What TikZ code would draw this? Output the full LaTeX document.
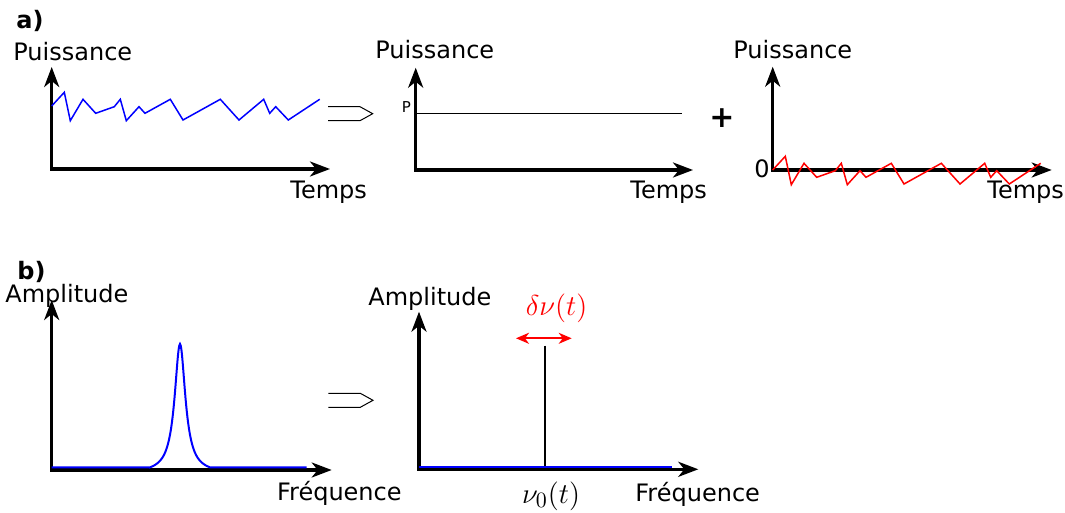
\documentclass[tikz,border=0pt]{standalone}
\usepackage{fontspec}
\setmainfont{DejaVu Sans}
\usetikzlibrary{arrows.meta}
\definecolor{bruitbleu}{RGB}{0,0,255}
\definecolor{bruitrouge}{RGB}{255,0,0}
\def\bruit{(51.7,106) -- (64.3,92.3) -- (70.3,120.7) -- (83,99.3) -- (95.7,113.3) -- (114.3,106.7) -- (120.3,99.3) -- (126.3,120.7) -- (139,106.7) -- (145,113.3) -- (170.3,99.3) -- (183,120) -- (220.3,99.3) -- (239,120) -- (263.7,99.3) -- (269.7,113.3) -- (275.7,106.7) -- (288.3,120) -- (319.7,99.3)}
\newcommand\implique[1]{\draw[fleche] (#1) ++(0,-7) -- ++(32,0) -- ++(12.7,7) -- ++(-12.7,7) -- ++(-32,0);}

\begin{document}
\begin{tikzpicture}[x=0.5pt, y=-0.5pt,
        axe/.style={line width=1.6pt, line join=miter, >={Stealth[length=10pt, width=7.5pt, inset=3pt]}, <->},
        etiq/.style={inner sep=0pt, anchor=base west, font=\fontsize{12}{14}\selectfont},
        bruitline/.style={line width=0.75pt, line join=miter},
        spectre/.style={line width=1pt, bruitbleu},
        fleche/.style={line width=0.5pt, line join=miter},
        ecart/.style={line width=1pt, bruitrouge, >={Stealth[length=6.5pt, width=5.5pt, inset=2pt]}, <->}
    ]
        \useasboundingbox (0,0) rectangle (1065,513);
        \foreach \n/\x/\y/\t/\r in {a1/51.7/169/67/330, a2/415.7/170/67.7/693, a3/772.7/170/66.7/1051.7,
                                    b1/51.7/470/300/331.7, b2/419/469.3/311.7/698.3} {
            \coordinate (\n-y) at (\x,\t);
            \coordinate (\n-x) at (\r,\y);
            \draw[axe] (\n-y) |- (\n-x);
        }
        \draw[bruitline, bruitbleu] \bruit;
        \draw[bruitline, bruitrouge, shift={(721,64)}] \bruit;
        \coordinate (p-g) at (415.7,113.3);
        \coordinate (p-d) at (681.7,113.3);
        \draw[line width=0.6pt] (p-g) -- (p-d);
        \coordinate (imp-a) at (328,113.7);
        \coordinate (imp-b) at (328.3,400.3);
        \implique{imp-a}
        \implique{imp-b}
        \draw[spectre] (51.7,467.3) -- (150,467.3) -- plot[domain=-30:30, samples=81, smooth]
            ({180+\x}, {467.3-123.3*(1/(1+(\x/6.5)^2)-0.045)/0.955}) -- (306.7,467.3);
        \coordinate (raie-h) at (545,345.7);
        \coordinate (raie-b) at (545,469);
        \draw[line width=0.9pt] (raie-h) -- (raie-b);
        \draw[spectre] (419,466.7) -- (671.7,466.7);
        \coordinate (ec-g) at (516,338.3);
        \coordinate (ec-d) at (571.7,338.3);
        \draw[ecart] (ec-g) -- (ec-d);
        \node[etiq] (ta) at (16,29) {\bfseries a)};
        \node[etiq] (puis1) at (13,60.5) {Puissance};
        \node[etiq] (temps1) at (290,199) {Temps};
        \node[etiq] (puis2) at (375,59) {Puissance};
        \node[etiq, font=\fontsize{7.5}{9}\selectfont] (niv) at (401.5,113) {P};
        \node[etiq] (temps2) at (630,199) {Temps};
        \node[inner sep=0pt, font=\fontsize{15}{18}\selectfont\bfseries] (plus) at (722,118) {+};
        \node[etiq] (puis3) at (733,59) {Puissance};
        \node[etiq] (zero) at (754,178) {0};
        \node[etiq] (temps3) at (987,199) {Temps};
        \node[etiq] (tb) at (17,279) {\bfseries b)};
        \node[etiq] (ampl1) at (5,302.5) {Amplitude};
        \node[etiq] (freq1) at (276.7,500) {Fréquence};
        \node[etiq] (ampl2) at (368,306) {Amplitude};
        \node[etiq] (freq2) at (635,501.5) {Fréquence};
        \node[etiq, anchor=base, text=bruitrouge, font=\fontsize{14}{16}\selectfont] (dnu) at (556.5,315) {$\delta\nu(t)$};
        \node[etiq, anchor=base, font=\fontsize{15}{18}\selectfont] (nu0) at (551,503) {$\nu_0(t)$};
    \end{tikzpicture}
\end{document}
